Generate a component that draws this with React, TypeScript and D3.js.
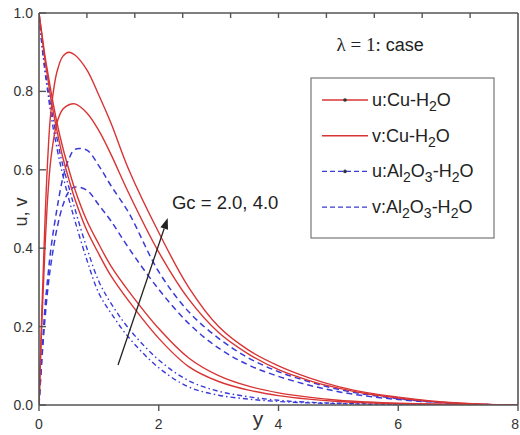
import React, { useEffect } from "react";
import * as d3 from "d3";

// ---- data ----
const xs = [0, 0.05, 0.1, 0.15, 0.2, 0.3, 0.4, 0.5, 0.6, 0.8, 1.0, 1.2, 1.5, 2.0, 2.5, 3.0, 3.5, 4.0, 4.5, 5.0, 5.5, 6.0, 6.5, 7.0, 7.5, 8.0];

const vCu4 = [0, 0.25, 0.47, 0.64, 0.75, 0.85, 0.89, 0.9, 0.893, 0.855, 0.79, 0.72, 0.6, 0.44, 0.3, 0.2, 0.14, 0.1, 0.07, 0.047, 0.031, 0.02, 0.011, 0.005, 0.0015, 0];
const vCu2 = [0, 0.22, 0.4, 0.54, 0.63, 0.72, 0.755, 0.766, 0.768, 0.745, 0.7, 0.64, 0.54, 0.39, 0.27, 0.185, 0.13, 0.09, 0.063, 0.043, 0.028, 0.018, 0.01, 0.0045, 0.0012, 0];
const vAl4 = [0, 0.13, 0.25, 0.33, 0.4, 0.5, 0.58, 0.628, 0.652, 0.65, 0.61, 0.56, 0.49, 0.34, 0.238, 0.17, 0.12, 0.085, 0.06, 0.04, 0.026, 0.016, 0.009, 0.004, 0.001, 0];
const vAl2 = [0, 0.12, 0.22, 0.3, 0.36, 0.45, 0.51, 0.545, 0.556, 0.548, 0.51, 0.47, 0.4, 0.295, 0.208, 0.145, 0.102, 0.073, 0.051, 0.034, 0.022, 0.014, 0.008, 0.0035, 0.001, 0];
const uCu4 = [1, 0.945, 0.89, 0.845, 0.8, 0.72, 0.655, 0.6, 0.55, 0.47, 0.41, 0.355, 0.29, 0.195, 0.12, 0.075, 0.048, 0.031, 0.02, 0.012, 0.0075, 0.0045, 0.0028, 0.0015, 0.0005, 0];
const uCu2 = [1, 0.94, 0.88, 0.83, 0.78, 0.7, 0.63, 0.575, 0.525, 0.445, 0.385, 0.33, 0.265, 0.17, 0.098, 0.06, 0.038, 0.024, 0.015, 0.009, 0.0055, 0.0033, 0.002, 0.001, 0.0003, 0];
const uAl4 = [1, 0.92, 0.86, 0.805, 0.76, 0.68, 0.61, 0.555, 0.5, 0.4, 0.315, 0.26, 0.195, 0.115, 0.062, 0.035, 0.021, 0.012, 0.007, 0.0045, 0.0028, 0.0015, 0.0008, 0.0004, 0.0001, 0];
const uAl2 = [1, 0.915, 0.85, 0.795, 0.74, 0.655, 0.585, 0.525, 0.47, 0.37, 0.285, 0.235, 0.172, 0.095, 0.046, 0.025, 0.015, 0.009, 0.0055, 0.0033, 0.002, 0.001, 0.0005, 0.0003, 0.0001, 0];

const xTicks = [0, 2, 4, 6, 8];
const yTicks = [0, 0.2, 0.4, 0.6, 0.8, 1.0];
const topTicks = [0.8, 1.6, 2.4, 3.2, 4.0, 4.8, 5.6, 6.4, 7.2];

// annotations (data coords)
const arrowTail = [1.32, 0.102];
const arrowHead = [2.15, 0.477];
const gcLabelPos = [2.22, 0.5];
const lambdaPos = [4.97, 0.903];

const RED = "#d93434";
const BLUE = "#3a3ad8";

type Series = { vals: number[]; color: string; dash: string | null; width: number };
const series: Series[] = [
  { vals: uAl2, color: BLUE, dash: "5,3,1.5,3", width: 1.4 },
  { vals: uAl4, color: BLUE, dash: "5,3,1.5,3", width: 1.4 },
  { vals: vAl2, color: BLUE, dash: "6,4", width: 1.5 },
  { vals: vAl4, color: BLUE, dash: "6,4", width: 1.5 },
  { vals: uCu2, color: RED, dash: null, width: 1.4 },
  { vals: uCu4, color: RED, dash: null, width: 1.4 },
  { vals: vCu2, color: RED, dash: null, width: 1.4 },
  { vals: vCu4, color: RED, dash: null, width: 1.4 },
];

const legendItems = [
  { name: "u", mat: "Cu", color: RED, dash: null as string | null, dot: true },
  { name: "v", mat: "Cu", color: RED, dash: null as string | null, dot: false },
  { name: "u", mat: "Al", color: BLUE, dash: "5,3", dot: true },
  { name: "v", mat: "Al", color: BLUE, dash: "5,3", dot: false },
];

const W = 520;
const H = 435;
const L = 39, R = 518, T = 13, B = 405;

export default function App() {
  useEffect(() => {
    document.body.style.margin = "0";
  }, []);
  const x = d3.scaleLinear().domain([0, 8]).range([L, R]);
  const y = d3.scaleLinear().domain([0, 1]).range([B, T]);
  const line = d3
    .line<number>()
    .x((_, i) => x(xs[i]))
    .y((d) => y(d))
    .curve(d3.curveCatmullRom.alpha(0.5));

  const axisColor = "#555";
  const textColor = "#333";
  const font = "'Liberation Sans', Arial, sans-serif";

  const ax = x(arrowTail[0]), ay = y(arrowTail[1]);
  const hx = x(arrowHead[0]), hy = y(arrowHead[1]);
  const ang = Math.atan2(hy - ay, hx - ax);
  const hl = 11, hw = 4;
  const bx = hx - hl * Math.cos(ang), by = hy - hl * Math.sin(ang);
  const p1 = [bx + hw * Math.sin(ang), by - hw * Math.cos(ang)];
  const p2 = [bx - hw * Math.sin(ang), by + hw * Math.cos(ang)];

  const legX = 311, legY = 78, legW = 183, legH = 160;
  const rowY = (i: number) => legY + 22 + i * 35.7;

  return (
    <svg width={W} height={H} style={{ position: "absolute", left: 0, top: 0, background: "#fff" }} fontFamily={font}>
      <defs>
        <clipPath id="plotclip">
          <rect x={L} y={T} width={R - L} height={B - T} />
        </clipPath>
      </defs>
      <rect x={0} y={0} width={W} height={H} fill="#fff" />
      <g clipPath="url(#plotclip)">
        {series.map((s, i) => (
          <path
            key={i}
            d={line(s.vals) || ""}
            fill="none"
            stroke={s.color}
            strokeWidth={s.width}
            strokeDasharray={s.dash || undefined}
          />
        ))}
      </g>
      {/* frame */}
      <line x1={L} x2={L} y1={T} y2={B} stroke={axisColor} strokeWidth={1.6} />
      <line x1={L} x2={R} y1={B} y2={B} stroke={axisColor} strokeWidth={1.6} />
      <line x1={L} x2={R} y1={T} y2={T} stroke={axisColor} strokeWidth={1.6} />
      <line x1={R} x2={R} y1={T} y2={B} stroke={axisColor} strokeWidth={1.6} />
      {/* y ticks */}
      {yTicks.map((t) => (
        <g key={"y" + t}>
          <line x1={L} x2={L + 7} y1={y(t)} y2={y(t)} stroke={axisColor} strokeWidth={1.4} />
          <text x={L - 6} y={y(t) + 5} fontSize={14} fill={textColor} textAnchor="end">
            {d3.format(".1f")(t)}
          </text>
        </g>
      ))}
      {/* x ticks */}
      {xTicks.map((t, i) => (
        <g key={"x" + t}>
          <line x1={x(t)} x2={x(t)} y1={B} y2={B + 6} stroke={axisColor} strokeWidth={1.4} />
          <text
            x={i === xTicks.length - 1 ? W - 1 : x(t)}
            y={B + 24}
            fontSize={14}
            fill={textColor}
            textAnchor={i === xTicks.length - 1 ? "end" : "middle"}
          >
            {t}
          </text>
        </g>
      ))}
      {topTicks.map((t) => (
        <line key={"t" + t} x1={x(t)} x2={x(t)} y1={T} y2={T + 5} stroke={axisColor} strokeWidth={1.4} />
      ))}
      {/* axis titles */}
      <text x={258} y={426} fontSize={21} fill={textColor} textAnchor="middle">
        y
      </text>
      <text transform={`translate(27,212) rotate(-90)`} fontSize={18} fill={textColor} textAnchor="middle">
        u, v
      </text>
      {/* lambda */}
      <text x={x(lambdaPos[0])} y={y(lambdaPos[1])} fontSize={18} fill="#222">
        <tspan fontFamily="'Liberation Serif', 'Times New Roman', serif" fontSize={19}>λ = 1:</tspan>
        <tspan> case</tspan>
      </text>
      {/* arrow */}
      <line x1={ax} y1={ay} x2={bx} y2={by} stroke="#222" strokeWidth={1.3} />
      <polygon points={`${hx},${hy} ${p1[0]},${p1[1]} ${p2[0]},${p2[1]}`} fill="#222" />
      <text x={x(gcLabelPos[0])} y={y(gcLabelPos[1])} fontSize={18.5} fill="#222">
        Gc = 2.0, 4.0
      </text>
      {/* legend */}
      <rect x={legX} y={legY} width={legW} height={legH} fill="#fff" stroke="#777" strokeWidth={1.2} />
      {legendItems.map((it, i) => (
        <g key={"lg" + i}>
          <line
            x1={legX + 11}
            x2={legX + 57}
            y1={rowY(i)}
            y2={rowY(i)}
            stroke={it.color}
            strokeWidth={1.4}
            strokeDasharray={it.dash || undefined}
          />
          {it.dot && <circle cx={legX + 34} cy={rowY(i)} r={1.8} fill="#333" />}
          <text x={legX + 61} y={rowY(i) + 6} fontSize={18} fill="#222">
            {it.mat === "Cu" ? (
              <>
                <tspan>{it.name}:Cu-H</tspan>
                <tspan fontSize={14} dy={5}>2</tspan>
                <tspan dy={-5}>O</tspan>
              </>
            ) : (
              <>
                <tspan>{it.name}:Al</tspan>
                <tspan fontSize={14} dy={5}>2</tspan>
                <tspan dy={-5}>O</tspan>
                <tspan fontSize={14} dy={5}>3</tspan>
                <tspan dy={-5}>-H</tspan>
                <tspan fontSize={14} dy={5}>2</tspan>
                <tspan dy={-5}>O</tspan>
              </>
            )}
          </text>
        </g>
      ))}
    </svg>
  );
}
